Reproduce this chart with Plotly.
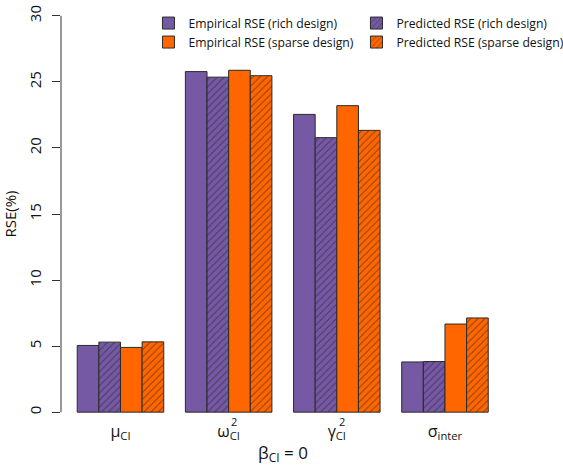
import plotly.graph_objects as go

categories = ["μ<sub>CI</sub>", "ω<sub>CI</sub>", "γ<sub>CI</sub>", "σ<sub>inter</sub>"]
superscripts = ["", "2", "2", ""]
series_names = ["Empirical RSE (rich design)", "Predicted RSE (rich design)",
                "Empirical RSE (sparse design)", "Predicted RSE (sparse design)"]
emp_rich = [5.05, 25.78, 22.54, 3.80]
pred_rich = [5.30, 25.36, 20.78, 3.83]
emp_sparse = [4.90, 25.88, 23.20, 6.67]
pred_sparse = [5.32, 25.47, 21.33, 7.13]
y_ticks = [0, 5, 10, 15, 20, 25, 30]

PURPLE = "#7559A4"
ORANGE = "#FF6600"
FONT = "Open Sans"

series = [emp_rich, pred_rich, emp_sparse, pred_sparse]
colors = [PURPLE, PURPLE, ORANGE, ORANGE]
hatched = [False, True, False, True]

fig = go.Figure()
for name, vals, col, h in zip(series_names, series, colors, hatched):
    marker = dict(color=col, line=dict(color="#2a2a2a", width=1))
    if h:
        marker["pattern"] = dict(shape="/", fillmode="overlay", fgcolor="#1a1a1a",
                                 size=5, solidity=0.2)
    fig.add_trace(go.Bar(x=categories, y=vals, name=name, marker=marker))

# y axis line drawn only over tick range
fig.add_shape(type="line", xref="paper", yref="y", x0=0, x1=0,
              y0=y_ticks[0], y1=y_ticks[-1], line=dict(color="#333", width=1))

for cat, sup in zip(categories, superscripts):
    if sup:
        fig.add_annotation(x=cat, y=0, xref="x", yref="paper", text=sup,
                           showarrow=False, xshift=5, yshift=7, yanchor="middle",
                           font=dict(family=FONT, size=11, color="#111"))

fig.update_layout(
    width=563, height=466,
    margin=dict(l=61, r=58, t=0, b=38, autoexpand=False),
    plot_bgcolor="white", paper_bgcolor="white",
    barmode="group", bargap=0.2, bargroupgap=0,
    font=dict(family=FONT, color="#111"),
    showlegend=True,
    legend=dict(orientation="h", x=0.197, y=0.98, xanchor="left", yanchor="top",
                entrywidth=163, font=dict(family=FONT, size=12.2, color="#111"),
                bgcolor="rgba(0,0,0,0)", traceorder="normal"),
    xaxis=dict(range=[-0.55, 3.555], showline=False, ticks="", showgrid=False,
               zeroline=False, automargin=False, ticklabelstandoff=-8,
               tickfont=dict(family=FONT, size=16, color="#111"),
               title=dict(text="β<sub>CI</sub> = 0", standoff=4,
                          font=dict(family=FONT, size=17, color="#111"))),
    yaxis=dict(range=[-1.2, 31.2], showline=False, showgrid=False, zeroline=False,
               tickmode="array", tickvals=y_ticks, ticks="outside", ticklen=8,
               tickcolor="#333", tickangle=-90, automargin=False, ticklabelstandoff=5,
               tickfont=dict(family=FONT, size=15, color="#111"),
               title=dict(text="RSE(%)", standoff=8,
                          font=dict(family=FONT, size=15, color="#111"))),
)

fig.write_html("out.html")
